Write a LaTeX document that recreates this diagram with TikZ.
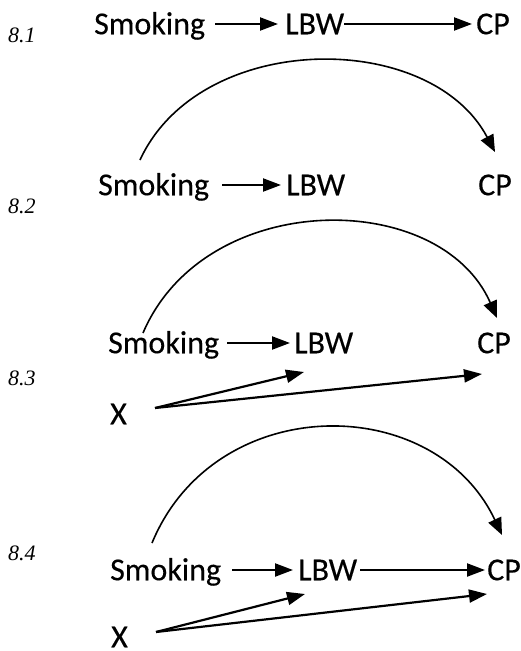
\documentclass[tikz,border=0pt]{standalone}
\usepackage{fontspec}
\setmainfont{Carlito}
\newfontfamily\varfont{Carlito}[FakeBold=0.3]
\newfontfamily\labfont{Liberation Serif}
\usetikzlibrary{arrows.meta}
\begin{document}
\begin{tikzpicture}[x=1pt,y=-1pt,
  var/.style={font=\varfont\fontsize{32}{38}\selectfont, inner sep=0pt, text height=20.5pt, text depth=0pt, anchor=west},
  panel/.style={font=\labfont\itshape\fontsize{22}{26}\selectfont, inner sep=0pt, anchor=west},
  arr/.style={line width=2.2pt, -{Triangle[length=18pt,width=13pt]}},
  arc/.style={line width=1.6pt, -{Triangle[length=17pt,width=14pt]}}]
\useasboundingbox (0,0) rectangle (521,651);
% labels
\node[panel] (p1) at (8,35) {8.1};
\node[panel] (p2) at (8,206) {8.2};
\node[panel] (p3) at (8,378) {8.3};
\node[panel] (p4) at (8,553) {8.4};
% 8.1
\node[var] (s1) at (94,24) {Smoking};
\node[var] (l1) at (285,24) {LBW};
\node[var] (c1) at (476,24) {CP};
\draw[arr] ([xshift=10pt]s1.east) -- ([xshift=-7pt]l1.west);
\draw[arr] (l1.east) -- ([xshift=-4pt]c1.west);
% 8.2
\node[var] (s2) at (98,185) {Smoking};
\node[var] (l2) at (286,185) {LBW};
\node[var] (c2) at (478,185) {CP};
\draw[arr] ([xshift=13pt]s2.east) -- ([xshift=-5pt]l2.west);
\draw[arc] ([xshift=42pt,yshift=25pt]s2.west) .. controls +(60,-130) and +(-65,-123) .. ([xshift=17pt,yshift=33pt]c2.west);
% 8.3
\node[var] (s3) at (108,343) {Smoking};
\node[var] (l3) at (294,343) {LBW};
\node[var] (c3) at (477,343) {CP};
\node[var] (x3) at (110,414) {X};
\draw[arr] ([xshift=8pt]s3.east) -- ([xshift=-4pt]l3.west);
\draw[arc] ([xshift=35pt,yshift=10pt]s3.west) .. controls +(62,-145) and +(-57,-130) .. ([xshift=20pt,yshift=25pt]c3.west);
\draw[arr] ([xshift=28pt,yshift=6pt]x3.east) -- ([xshift=10pt,yshift=-29pt]l3.west);
\draw[arr] ([xshift=28pt,yshift=6pt]x3.east) -- ([xshift=5pt,yshift=-31pt]c3.west);
% 8.4
\node[var] (s4) at (110,570) {Smoking};
\node[var] (l4) at (298,570) {LBW};
\node[var] (c4) at (487,570) {CP};
\node[var] (x4) at (111,637) {X};
\draw[arr] ([xshift=11pt]s4.east) -- ([xshift=-5pt]l4.west);
\draw[arr] ([xshift=3pt]l4.east) -- ([xshift=-2pt]c4.west);
\draw[arc] ([xshift=42pt,yshift=27pt]s4.west) .. controls +(63,-152) and +(-68,-144) .. ([xshift=15pt,yshift=35pt]c4.west);
\draw[arr] ([xshift=28pt,yshift=5pt]x4.east) -- ([xshift=7pt,yshift=-24pt]l4.west);
\draw[arr] ([xshift=28pt,yshift=5pt]x4.east) -- ([xshift=0pt,yshift=-24pt]c4.west);
\end{tikzpicture}
\end{document}
